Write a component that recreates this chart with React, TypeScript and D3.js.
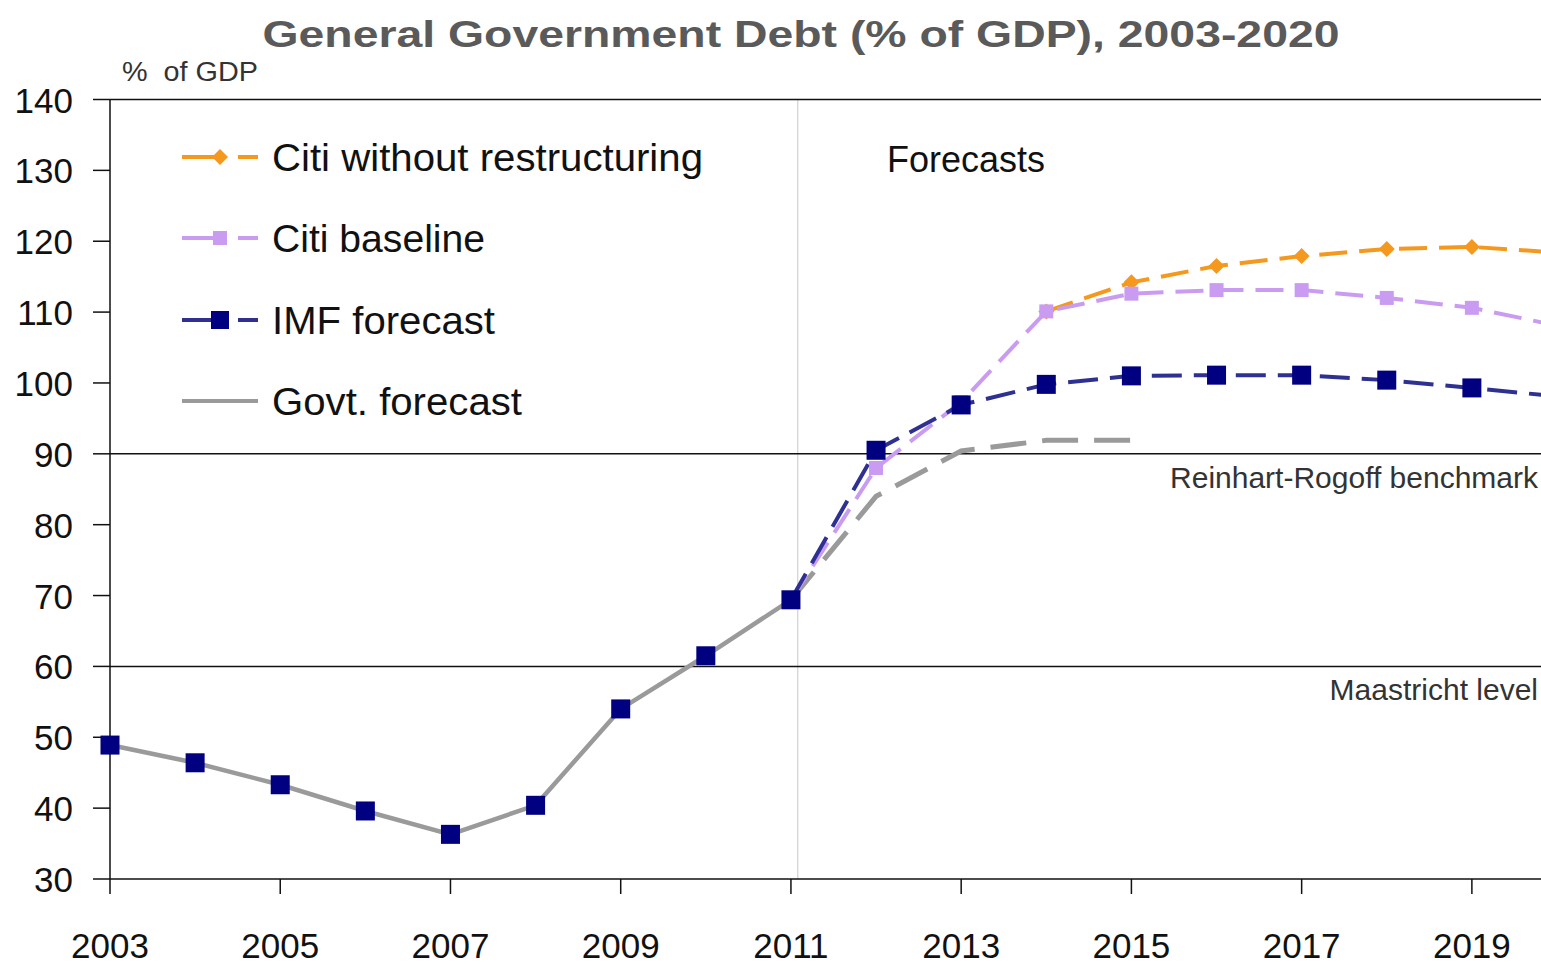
import React from "react";
import * as d3 from "d3";

const years = d3.range(2003, 2021);
const xTickYears = [2003, 2005, 2007, 2009, 2011, 2013, 2015, 2017, 2019];
const yTicks = [30, 40, 50, 60, 70, 80, 90, 100, 110, 120, 130, 140];

// IMF forecast (2003-2020)
const imfValues = [48.9, 46.4, 43.3, 39.6, 36.3, 40.4, 54.0, 61.5, 69.4, 90.5, 96.9, 99.8, 101.0, 101.1, 101.1, 100.4, 99.3, 98.1];
// Govt. actual (2003-2011)
const govtHistYears = d3.range(2003, 2012);
const govtHistValues = [48.9, 46.4, 43.3, 39.6, 36.3, 40.4, 54.0, 61.5, 69.4];
// Govt. forecast (2011-2015)
const govtFcYears = [2011, 2012, 2013, 2014, 2015];
const govtFcValues = [69.4, 84.0, 90.4, 91.9, 91.9];
// Citi baseline (2011-2020)
const baseYears = d3.range(2011, 2021);
const baseValues = [69.4, 88.0, 97.3, 110.1, 112.6, 113.1, 113.1, 112.0, 110.6, 108.1];
// Citi without restructuring (2014-2020)
const noRestrYears = d3.range(2014, 2021);
const noRestrValues = [110.1, 114.2, 116.5, 117.9, 118.9, 119.2, 118.4];

const legendLabels = ["Citi without restructuring", "Citi baseline", "IMF forecast", "Govt. forecast"];
const refLines = [
  { value: 90, label: "Reinhart-Rogoff benchmark" },
  { value: 60, label: "Maastricht level" },
];

const FONT = "'Liberation Sans', Arial, sans-serif";
const ORANGE = "#F5981E";
const LILAC = "#C99CF2";
const NAVY_LINE = "#2E3192";
const NAVY = "#000080";
const GREY = "#9A9A9A";

export default function App() {
  const W = 1541;
  const H = 966;
  const x = d3.scaleLinear().domain([2003, 2020]).range([110, 1557]);
  const y = d3.scaleLinear().domain([30, 140]).range([879, 99.5]);
  const line = d3
    .line<[number, number]>()
    .x((d) => x(d[0]))
    .y((d) => y(d[1]));
  const zip = (ys: number[], vs: number[]) => ys.map((yr, i) => [yr, vs[i]] as [number, number]);

  const imfPts = zip(years, imfValues);
  const imfFcPts = imfPts.filter((d) => d[0] >= 2011);
  const govtHistPts = zip(govtHistYears, govtHistValues);
  const govtFcPts = zip(govtFcYears, govtFcValues);
  const basePts = zip(baseYears, baseValues);
  const noRestrPts = zip(noRestrYears, noRestrValues);

  const xLeft = x(2003);
  const xRight = 1560;
  const forecastX = x(2011.08);

  const diamond = (cx: number, cy: number, r: number) =>
    `M${cx},${cy - r}L${cx + r},${cy}L${cx},${cy + r}L${cx - r},${cy}Z`;

  const legendY = [157, 238, 320, 401];
  const legendTextLen = [431, 213, 223, 250];

  return (
    <svg
      width={W}
      height={H}
      style={{ position: "absolute", left: 0, top: 0, background: "#fff" }}
      fontFamily={FONT}
    >
      <rect x={0} y={0} width={W} height={H} fill="#fff" />
      {/* Title */}
      <text x={801} y={47} textAnchor="middle" fontSize={37} fontWeight="bold" fill="#5a5a5a" textLength={1077} lengthAdjust="spacingAndGlyphs">
        General Government Debt (% of GDP), 2003-2020
      </text>
      <text x={122} y={81} fontSize={27} fill="#333" textLength={136} lengthAdjust="spacingAndGlyphs">
        {"%\u00a0 of GDP"}
      </text>

      {/* forecast divider */}
      <line x1={forecastX} x2={forecastX} y1={y(140)} y2={y(30)} stroke="#d0d0d0" strokeWidth={1.2} />

      {/* horizontal lines */}
      <line x1={xLeft} x2={xRight} y1={y(140)} y2={y(140)} stroke="#111" strokeWidth={1.5} />
      {refLines.map((r) => (
        <g key={r.label}>
          <line x1={xLeft} x2={xRight} y1={y(r.value)} y2={y(r.value)} stroke="#111" strokeWidth={1.5} />
          <text x={1538} y={y(r.value) + 34} textAnchor="end" fontSize={30} fill="#333">
            {r.label}
          </text>
        </g>
      ))}

      {/* axes */}
      <line x1={xLeft} x2={xLeft} y1={y(140)} y2={y(30)} stroke="#111" strokeWidth={1.5} />
      <line x1={xLeft} x2={xRight} y1={y(30)} y2={y(30)} stroke="#111" strokeWidth={1.5} />
      {yTicks.map((t) => (
        <g key={t}>
          <line x1={xLeft - 17} x2={xLeft} y1={y(t)} y2={y(t)} stroke="#111" strokeWidth={1.5} />
          <text x={73} y={y(t) + 13} textAnchor="end" fontSize={35} fill="#111">
            {t}
          </text>
        </g>
      ))}
      {xTickYears.map((t) => (
        <g key={t}>
          <line x1={x(t)} x2={x(t)} y1={y(30)} y2={y(30) + 15} stroke="#111" strokeWidth={1.5} />
          <text x={x(t)} y={958} textAnchor="middle" fontSize={35} fill="#111">
            {t}
          </text>
        </g>
      ))}

      <text x={887} y={172} fontSize={37} fill="#111" textLength={158} lengthAdjust="spacingAndGlyphs">
        Forecasts
      </text>

      {/* series lines */}
      <path d={line(noRestrPts) || ""} fill="none" stroke={ORANGE} strokeWidth={4} strokeDasharray="28 12" />
      <path d={line(govtFcPts) || ""} fill="none" stroke={GREY} strokeWidth={5} strokeDasharray="36 16" />
      <path d={line(basePts) || ""} fill="none" stroke={LILAC} strokeWidth={4} strokeDasharray="28 12" />
      <path d={line(imfFcPts) || ""} fill="none" stroke={NAVY_LINE} strokeWidth={4} strokeDasharray="30 12" />
      <path d={line(govtHistPts) || ""} fill="none" stroke={GREY} strokeWidth={4.5} />

      {/* markers */}
      {noRestrPts.map((d) => (
        <path key={"o" + d[0]} d={diamond(x(d[0]), y(d[1]), 8)} fill={ORANGE} />
      ))}
      {basePts.slice(1).map((d) => (
        <rect key={"b" + d[0]} x={x(d[0]) - 7} y={y(d[1]) - 7} width={14} height={14} fill={LILAC} />
      ))}
      {imfPts.map((d) => (
        <rect key={"i" + d[0]} x={x(d[0]) - 9.5} y={y(d[1]) - 9.5} width={19} height={19} fill={NAVY} />
      ))}

      {/* legend */}
      <g>
        <line x1={182} x2={258} y1={legendY[0]} y2={legendY[0]} stroke={ORANGE} strokeWidth={4} strokeDasharray="44 12" />
        <path d={diamond(220, legendY[0], 8)} fill={ORANGE} />
        <line x1={182} x2={258} y1={legendY[1]} y2={legendY[1]} stroke={LILAC} strokeWidth={4} strokeDasharray="44 12" />
        <rect x={213} y={legendY[1] - 7} width={14} height={14} fill={LILAC} />
        <line x1={182} x2={258} y1={legendY[2]} y2={legendY[2]} stroke={NAVY_LINE} strokeWidth={4} strokeDasharray="44 12" />
        <rect x={211} y={legendY[2] - 9} width={18} height={18} fill={NAVY} />
        <line x1={182} x2={258} y1={legendY[3]} y2={legendY[3]} stroke={GREY} strokeWidth={4} />
        {legendLabels.map((l, i) => (
          <text key={l} x={272} y={legendY[i] + 14} fontSize={38} fill="#111" textLength={legendTextLen[i]} lengthAdjust="spacingAndGlyphs">
            {l}
          </text>
        ))}
      </g>
    </svg>
  );
}
